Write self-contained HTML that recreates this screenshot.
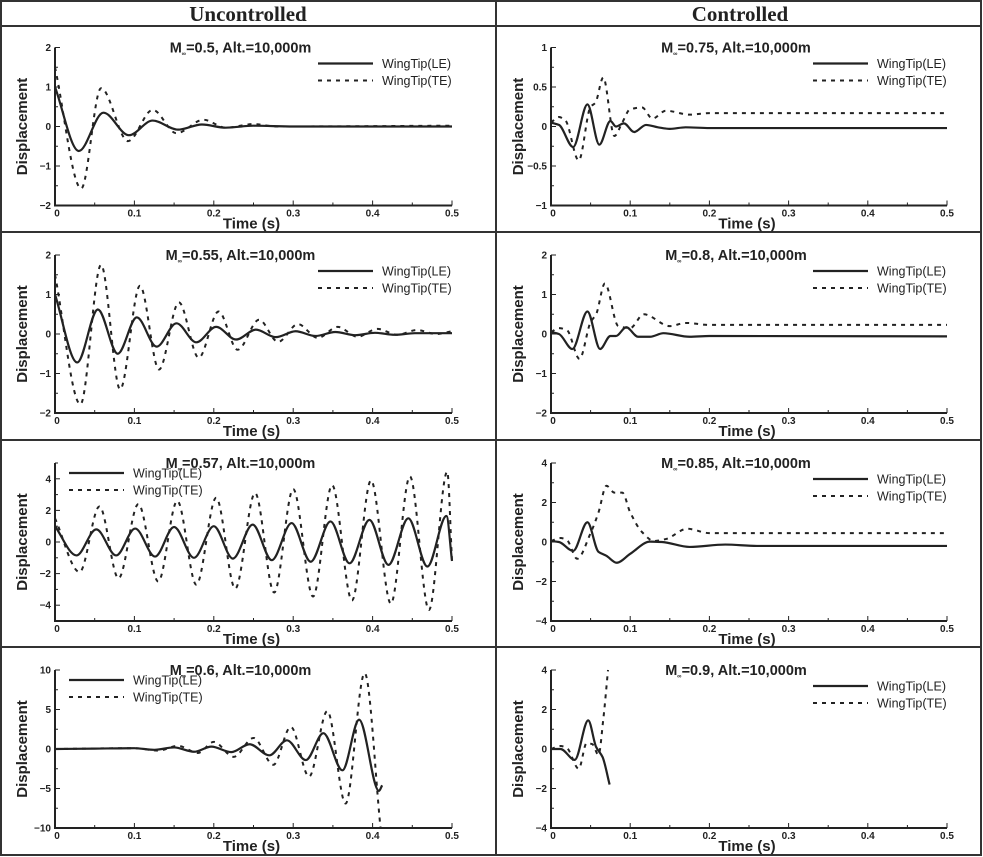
<!DOCTYPE html>
<html><head><meta charset="utf-8">
<style>
html,body{margin:0;padding:0;background:#fff;}
svg{display:block;font-family:"Liberation Sans",sans-serif;}
</style></head>
<body>
<svg id="fig" width="983" height="857" viewBox="0 0 983 857" xmlns="http://www.w3.org/2000/svg">
<g stroke="#333" fill="none">
<rect x="1" y="1" width="980" height="854" stroke-width="2"/>
<line x1="496" y1="1" x2="496" y2="855" stroke-width="2"/>
<line x1="1" y1="26" x2="981" y2="26" stroke-width="2"/>
<line x1="1" y1="232" x2="981" y2="232" stroke-width="2"/>
<line x1="1" y1="440" x2="981" y2="440" stroke-width="2"/>
<line x1="1" y1="647" x2="981" y2="647" stroke-width="2"/>
</g>
<text x="248" y="21" text-anchor="middle" font-family="Liberation Serif, serif" font-weight="bold" font-size="21" fill="#222">Uncontrolled</text>
<text x="740" y="21" text-anchor="middle" font-family="Liberation Serif, serif" font-weight="bold" font-size="21" fill="#222">Controlled</text>
</svg>
<script>
// ---- data ----
const p1Mach = "0.5";
const p1LE_t = [0,0.03,0.061,0.093,0.123,0.155,0.185,0.215,0.25,0.3,0.5];
const p1LE_y = [1.0,-0.62,0.35,-0.22,0.15,-0.08,0.05,-0.03,0.02,0,0];
const p1TE_t = [0,0.033,0.058,0.092,0.123,0.153,0.187,0.215,0.25,0.28,0.5];
const p1TE_y = [1.5,-1.57,0.97,-0.37,0.42,-0.17,0.17,-0.03,0.06,0.0,0.02];

const p2Mach = "0.55";
const p2LE_t = [0,0.028,0.054,0.079,0.103,0.128,0.153,0.178,0.203,0.228,0.253,0.278,0.303,0.328,0.353,0.378,0.403,0.428,0.453,0.5];
const p2LE_y = [1.0,-0.72,0.62,-0.5,0.42,-0.32,0.27,-0.21,0.18,-0.14,0.11,-0.08,0.07,-0.05,0.05,-0.03,0.03,-0.02,0.02,0.02];
const p2TE_t = [0,0.032,0.058,0.082,0.107,0.131,0.156,0.181,0.206,0.23,0.257,0.281,0.306,0.331,0.356,0.381,0.406,0.431,0.456,0.48,0.5];
const p2TE_y = [1.5,-1.78,1.75,-1.4,1.22,-0.9,0.8,-0.6,0.57,-0.4,0.36,-0.2,0.25,-0.1,0.18,-0.07,0.13,-0.02,0.1,0.0,0.07];

const p3Mach = "0.57";
const p3LE_t = [0,0.027,0.052,0.077,0.101,0.126,0.15,0.175,0.2,0.224,0.249,0.273,0.298,0.322,0.347,0.371,0.396,0.42,0.445,0.469,0.493,0.5];
const p3LE_y = [1.0,-0.85,0.8,-0.85,0.85,-0.92,0.95,-1.0,1.0,-1.05,1.1,-1.15,1.2,-1.25,1.3,-1.35,1.4,-1.45,1.5,-1.55,1.65,-1.2];
const p3TE_t = [0,0.031,0.056,0.08,0.105,0.13,0.154,0.178,0.203,0.227,0.252,0.276,0.3,0.325,0.349,0.374,0.398,0.423,0.447,0.471,0.494,0.5];
const p3TE_y = [1.5,-1.9,2.25,-2.3,2.4,-2.5,2.6,-2.7,2.8,-2.95,3.1,-3.2,3.35,-3.45,3.6,-3.7,3.9,-3.9,4.15,-4.3,4.45,-1.2];

const p4Mach = "0.6";
const p4LE_t = [0,0.05,0.1,0.125,0.15,0.175,0.197,0.222,0.245,0.27,0.292,0.316,0.338,0.362,0.383,0.408,0.412];
const p4LE_y = [0,0.05,0.1,-0.1,0.2,-0.35,0.3,-0.4,0.6,-0.8,1.1,-1.4,2.0,-2.7,3.7,-5.3,-4.6];
const p4TE_t = [0,0.1,0.13,0.155,0.18,0.2,0.225,0.25,0.275,0.297,0.32,0.343,0.366,0.39,0.41];
const p4TE_y = [0,0.1,-0.2,0.4,-0.5,0.9,-1.0,1.4,-2.0,2.8,-3.5,4.8,-6.9,9.6,-10];

const p5Mach = "0.75";
const p5LE_t = [0,0.01,0.028,0.046,0.061,0.075,0.082,0.092,0.105,0.12,0.135,0.15,0.17,0.2,0.5];
const p5LE_y = [0.05,0.02,-0.26,0.28,-0.23,0.07,0.0,0.04,-0.07,0.02,-0.01,-0.03,-0.01,-0.02,-0.02];
const p5TE_t = [0,0.01,0.018,0.035,0.05,0.056,0.066,0.08,0.09,0.1,0.115,0.128,0.145,0.175,0.2,0.5];
const p5TE_y = [0.05,0.12,0.08,-0.43,0.25,0.3,0.62,-0.12,0.05,0.22,0.24,0.1,0.2,0.15,0.17,0.17];

const p6Mach = "0.8";
const p6LE_t = [0,0.01,0.027,0.046,0.062,0.075,0.082,0.095,0.11,0.125,0.142,0.175,0.2,0.5];
const p6LE_y = [0.05,0.0,-0.38,0.57,-0.38,-0.05,-0.05,0.17,-0.07,-0.07,0.02,-0.07,-0.05,-0.06];
const p6TE_t = [0,0.01,0.02,0.036,0.05,0.057,0.068,0.085,0.1,0.117,0.15,0.17,0.2,0.5];
const p6TE_y = [0.05,0.15,0.1,-0.63,0.3,0.5,1.28,0.2,0.15,0.5,0.2,0.28,0.23,0.23];

const p7Mach = "0.85";
const p7LE_t = [0,0.01,0.028,0.046,0.06,0.07,0.083,0.1,0.125,0.14,0.175,0.22,0.26,0.5];
const p7LE_y = [0.05,0.0,-0.45,1.0,-0.5,-0.7,-1.05,-0.6,0.02,0.0,-0.25,-0.13,-0.2,-0.2];
const p7TE_t = [0,0.012,0.02,0.033,0.05,0.06,0.07,0.08,0.09,0.1,0.115,0.13,0.145,0.172,0.2,0.25,0.5];
const p7TE_y = [0.05,0.2,0.1,-0.85,0.45,1.5,2.85,2.5,2.5,1.5,0.5,0.05,0.15,0.67,0.45,0.45,0.45];

const p8Mach = "0.9";
const p8LE_t = [0,0.012,0.03,0.047,0.057,0.065,0.074];
const p8LE_y = [0,0.0,-0.55,1.45,0.1,-0.4,-1.8];
const p8TE_t = [0,0.012,0.02,0.035,0.045,0.052,0.06,0.066,0.072];
const p8TE_y = [0,0.15,0.05,-1.0,0.3,0.25,-0.3,1.5,4.0];

// axis tick label arrays
const xTicks = [0,0.1,0.2,0.3,0.4,0.5];
const ticksA = [-2,-1,0,1,2];
const ticksB = [-1,-0.5,0,0.5,1];
const ticksC = [-4,-2,0,2,4];
const ticksD = [-10,-5,0,5,10];

const NS = "http://www.w3.org/2000/svg";
const svg = document.getElementById('fig');
function mk(tag, attrs, parent){
  const e = document.createElementNS(NS, tag);
  for (const k in attrs) e.setAttribute(k, attrs[k]);
  (parent||svg).appendChild(e);
  return e;
}
function fmt(v){ const s = String(v); return v<0 ? "\u2212"+s.slice(1) : s; }

function monotonePath(xs, ys){
  const n = xs.length;
  if (n < 2) return "";
  const d = [], m = new Array(n);
  for (let i=0;i<n-1;i++) d.push((ys[i+1]-ys[i])/(xs[i+1]-xs[i]));
  m[0]=d[0]; m[n-1]=d[n-2];
  for (let i=1;i<n-1;i++){
    if (d[i-1]*d[i] <= 0) m[i]=0;
    else { m[i] = 3*(d[i-1]+d[i]) / ( (2*d[i]+d[i-1])/d[i-1] + (d[i]+2*d[i-1])/d[i] ) ; }
  }
  let p = "M"+xs[0].toFixed(2)+","+ys[0].toFixed(2);
  for (let i=0;i<n-1;i++){
    const h = xs[i+1]-xs[i];
    p += " C"+(xs[i]+h/3).toFixed(2)+","+(ys[i]+m[i]*h/3).toFixed(2)+" "+
         (xs[i+1]-h/3).toFixed(2)+","+(ys[i+1]-m[i+1]*h/3).toFixed(2)+" "+
         xs[i+1].toFixed(2)+","+ys[i+1].toFixed(2);
  }
  return p;
}

function panel(id, x0, x1, top, ymin, ymax, yTicks, minorStep, mach, le_t, le_y, te_t, te_y, legendLeft){
  const bottom = top + 158;
  const g = mk('g', {});
  
  
  const sx = t => x0 + (t/0.5)*(x1-x0);
  const sy = v => bottom - (v-ymin)/(ymax-ymin)*(bottom-top);
  const cx = (x0+x1)/2;
  const title = mk('text', {x: cx-13, y: top+5, 'text-anchor':'middle', 'font-weight':'bold', 'font-size':'14.5', fill:'#222'}, g);
  
  
  const t1 = document.createElementNS(NS,'tspan'); t1.textContent = "M"; title.appendChild(t1);
  const t2 = document.createElementNS(NS,'tspan'); t2.textContent = "\u221E"; t2.setAttribute('font-size','6'); t2.setAttribute('dy','3'); title.appendChild(t2);
  const t3 = document.createElementNS(NS,'tspan'); t3.textContent = "="+mach+", Alt.=10,000m"; t3.setAttribute('dy','-3'); title.appendChild(t3);
  const ax = mk('g', {stroke:'#222', fill:'none'}, g);
  
  
  mk('line', {x1:x0, y1:top, x2:x0, y2:bottom, 'stroke-width':2}, ax);
  mk('line', {x1:x0-1, y1:bottom, x2:x1, y2:bottom, 'stroke-width':2}, ax);
  for (let v=ymin; v<=ymax+1e-9; v+=minorStep){
    const isMajor = yTicks.some(t=>Math.abs(t-v)<1e-9);
    mk('line', {x1:x0, y1:sy(v), x2:x0+(isMajor?5:3), y2:sy(v), 'stroke-width':1}, ax);
  }
  for (let t=0; t<=0.5+1e-9; t+=0.05){
    const isMajor = Math.abs(Math.round(t*10)-t*10)<1e-6;
    mk('line', {x1:sx(t), y1:bottom, x2:sx(t), y2:bottom-(isMajor?5:3), 'stroke-width':1}, ax);
  }
  yTicks.forEach(v=>{
    const tl = mk('text', {x:x0-4, y:sy(v)+3.5, 'text-anchor':'end', 'font-weight':'bold', 'font-size':'10', fill:'#222'}, g);
    
    
    tl.textContent = fmt(v);
  });
  xTicks.forEach(v=>{
    const tl = mk('text', {x:sx(v)+ (v===0?2:0), y:bottom+11, 'text-anchor':'middle', 'font-weight':'bold', 'font-size':'10', fill:'#222'}, g);
    
    
    tl.textContent = String(v);
  });
  const xl = mk('text', {x:cx-2, y:bottom+23, 'text-anchor':'middle', 'font-weight':'bold', 'font-size':'15', fill:'#222'}, g);
  
  
  xl.textContent = "Time (s)";
  const ylx = x0-28, yly = (top+bottom)/2;
  const yl = mk('text', {x:ylx, y:yly, 'text-anchor':'middle', 'font-weight':'bold', 'font-size':'15', fill:'#222', transform:'rotate(-90 '+ylx+' '+yly+')'}, g);
  
  
  yl.textContent = "Displacement";
  const le = mk('path', {d: monotonePath(le_t.map(sx), le_y.map(sy)), stroke:'#222', 'stroke-width':2.2, fill:'none'}, g);
  
  
  const te = mk('path', {d: monotonePath(te_t.map(sx), te_y.map(sy)), stroke:'#222', 'stroke-width':2, fill:'none', 'stroke-dasharray':'4,5'}, g);
  
  
  let lx, ly;
  if (legendLeft){ lx = x0+14; ly = top+10; } else { lx = x1-134; ly = top+16; }
  const lg = mk('g', {}, g);
  
  
  mk('line', {x1:lx, y1:ly, x2:lx+55, y2:ly, stroke:'#222', 'stroke-width':2.2}, lg);
  mk('line', {x1:lx, y1:ly+17, x2:lx+55, y2:ly+17, stroke:'#222', 'stroke-width':2, 'stroke-dasharray':'4,5'}, lg);
  const a = mk('text', {x:lx+64, y:ly+4.5, 'font-size':'12.5', fill:'#222'}, lg);
  
  
  a.textContent = "WingTip(LE)";
  const b = mk('text', {x:lx+64, y:ly+21.5, 'font-size':'12.5', fill:'#222'}, lg);
  
  
  b.textContent = "WingTip(TE)";
}

const LX0=55, LX1=452, RX0=551, RX1=947;
const tops=[47.5,255,463,670];
panel('m050', LX0,LX1,tops[0], -2,2, ticksA, 0.5, p1Mach, p1LE_t,p1LE_y,p1TE_t,p1TE_y,false);
panel('m055', LX0,LX1,tops[1], -2,2, ticksA, 0.5, p2Mach, p2LE_t,p2LE_y,p2TE_t,p2TE_y,false);
panel('m057', LX0,LX1,tops[2], -5,5, ticksC, 1, p3Mach, p3LE_t,p3LE_y,p3TE_t,p3TE_y,true);
panel('m060', LX0,LX1,tops[3], -10,10, ticksD, 2.5, p4Mach, p4LE_t,p4LE_y,p4TE_t,p4TE_y,true);
panel('m075', RX0,RX1,tops[0], -1,1, ticksB, 0.25, p5Mach, p5LE_t,p5LE_y,p5TE_t,p5TE_y,false);
panel('m080', RX0,RX1,tops[1], -2,2, ticksA, 0.5, p6Mach, p6LE_t,p6LE_y,p6TE_t,p6TE_y,false);
panel('m085', RX0,RX1,tops[2], -4,4, ticksC, 1, p7Mach, p7LE_t,p7LE_y,p7TE_t,p7TE_y,false);
panel('m090', RX0,RX1,tops[3], -4,4, ticksC, 1, p8Mach, p8LE_t,p8LE_y,p8TE_t,p8TE_y,false);
</script>
</body></html>
